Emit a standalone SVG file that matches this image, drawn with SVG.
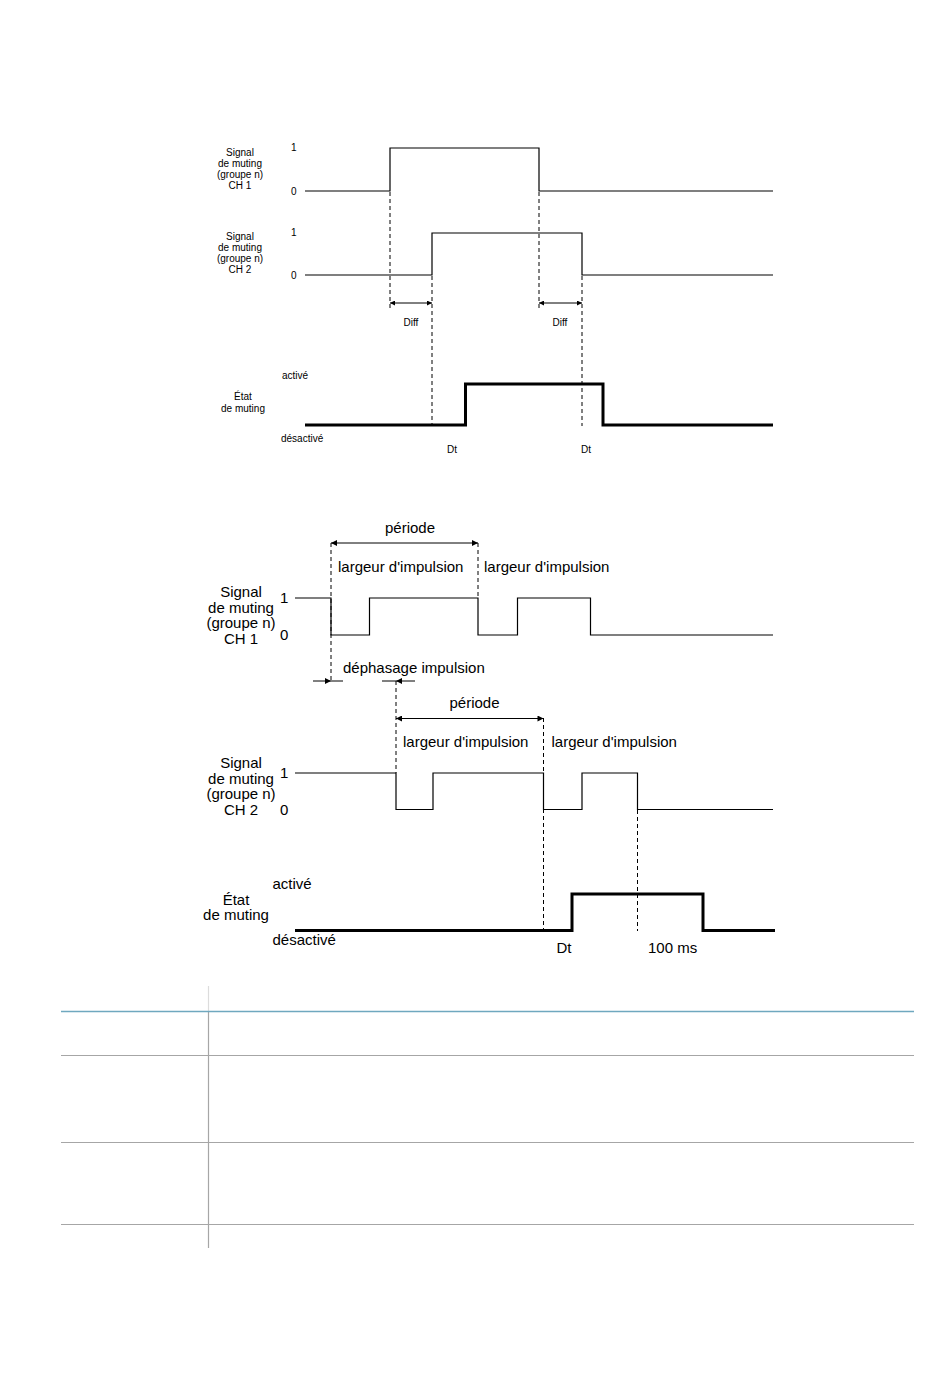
<svg xmlns="http://www.w3.org/2000/svg" width="950" height="1378" viewBox="0 0 950 1378">
<style>
.t{font-family:"Liberation Sans",Arial,sans-serif;fill:#000}
.s{font-size:10px}
.b{font-size:15px}
.m{text-anchor:middle}
.w{fill:none;stroke:#000;stroke-width:1.2}
.th{fill:none;stroke:#000;stroke-width:3}
.d{fill:none;stroke:#000;stroke-width:1;stroke-dasharray:4 3}
.a{fill:none;stroke:#000;stroke-width:1}
.g{stroke:#a6a6a6;stroke-width:1.2;fill:none}
</style>
<defs>
<marker id="as" viewBox="0 0 10 10" refX="10" refY="5" markerWidth="7" markerHeight="5" orient="auto-start-reverse" markerUnits="userSpaceOnUse"><path d="M0,0 L10,5 L0,10 z" fill="#000"/></marker>
<marker id="ab" viewBox="0 0 10 10" refX="10" refY="5" markerWidth="9" markerHeight="6" orient="auto-start-reverse" markerUnits="userSpaceOnUse"><path d="M0,0 L10,5 L0,10 z" fill="#000"/></marker>
</defs>
<rect width="950" height="1378" fill="#fff"/>

<!-- Top diagram -->
<g id="top-ch1">
<text class="t s m" x="240" y="156">Signal</text>
<text class="t s m" x="240" y="167">de muting</text>
<text class="t s m" x="240" y="178">(groupe n)</text>
<text class="t s m" x="240" y="189">CH 1</text>
<text class="t s" x="291" y="151">1</text>
<text class="t s" x="291" y="195">0</text>
<path class="w" d="M305,191 H390 V148 H539 V191 H773"/>
</g>
<g id="top-ch2">
<text class="t s m" x="240" y="240">Signal</text>
<text class="t s m" x="240" y="251">de muting</text>
<text class="t s m" x="240" y="262">(groupe n)</text>
<text class="t s m" x="240" y="273">CH 2</text>
<text class="t s" x="291" y="236">1</text>
<text class="t s" x="291" y="279">0</text>
<path class="w" d="M305,275 H432 V233 H582 V275 H773"/>
</g>
<g id="top-state">
<text class="t s" x="282" y="379">activé</text>
<text class="t s m" x="243" y="400">État</text>
<text class="t s m" x="243" y="412">de muting</text>
<text class="t s" x="281" y="442">désactivé</text>
<path class="th" d="M305,425 H465.5 V384 H603 V425 H773"/>
</g>
<g id="top-connectors">
<path class="d" d="M390,192 V308"/>
<path class="d" d="M432,276 V426"/>
<path class="d" d="M539,192 V308"/>
<path class="d" d="M582,276 V426"/>
<path class="a" d="M390,303 H432" marker-start="url(#as)" marker-end="url(#as)"/>
<path class="a" d="M539,303 H582" marker-start="url(#as)" marker-end="url(#as)"/>
<text class="t s m" x="411" y="326">Diff</text>
<text class="t s m" x="560" y="326">Diff</text>
<text class="t s" x="447" y="453">Dt</text>
<text class="t s" x="581" y="453">Dt</text>
</g>

<!-- Bottom diagram -->
<g id="bot-ch1">
<text class="t b m" x="241" y="597">Signal</text>
<text class="t b m" x="241" y="612.5">de muting</text>
<text class="t b m" x="241" y="628">(groupe n)</text>
<text class="t b m" x="241" y="643.5">CH 1</text>
<text class="t b" x="280" y="603">1</text>
<text class="t b" x="280" y="640">0</text>
<path class="w" d="M295,598 H331 V635 H369.5 V598 H478 V635 H517.5 V598 H590.5 V635 H773"/>
</g>
<g id="bot-ch2">
<text class="t b m" x="241" y="768">Signal</text>
<text class="t b m" x="241" y="783.5">de muting</text>
<text class="t b m" x="241" y="799">(groupe n)</text>
<text class="t b m" x="241" y="814.5">CH 2</text>
<text class="t b" x="280" y="778">1</text>
<text class="t b" x="280" y="815">0</text>
<path class="w" d="M295,773 H396 V809.5 H433 V773 H543.5 V809.5 H582 V773 H637.5 V809.5 H773"/>
</g>
<g id="bot-state">
<text class="t b" x="272.5" y="889">activé</text>
<text class="t b m" x="236" y="905">État</text>
<text class="t b m" x="236" y="920">de muting</text>
<text class="t b" x="272.5" y="945">désactivé</text>
<path class="th" d="M295,930.5 H572 V894 H703 V930.5 H775"/>
</g>
<g id="bot-connectors">
<path class="d" d="M331,543 V682"/>
<path class="d" d="M478,543 V598"/>
<path class="d" d="M396,681 V773"/>
<path class="d" d="M543.5,718 V931"/>
<path class="d" d="M637.5,810 V931"/>
<path class="a" d="M331,543 H478" marker-start="url(#ab)" marker-end="url(#ab)"/>
<path class="a" d="M396,718.5 H543.5" marker-start="url(#ab)" marker-end="url(#ab)"/>
<path class="a" d="M313,681 H331" marker-end="url(#ab)"/>
<path class="a" d="M331,681 H343"/>
<path class="a" d="M415,681 H396" marker-end="url(#ab)"/>
<path class="a" d="M396,681 H382"/>
<text class="t b m" x="410" y="533">période</text>
<text class="t b" x="338" y="572">largeur d'impulsion</text>
<text class="t b" x="484" y="572">largeur d'impulsion</text>
<text class="t b" x="343" y="673">déphasage impulsion</text>
<text class="t b m" x="474.5" y="708">période</text>
<text class="t b" x="403" y="747">largeur d'impulsion</text>
<text class="t b" x="551.5" y="747">largeur d'impulsion</text>
<text class="t b" x="556.5" y="953">Dt</text>
<text class="t b" x="648" y="953">100 ms</text>
</g>

<!-- Table -->
<g id="table">
<path d="M208.5,986 V1011" stroke="#dcdcdc" stroke-width="1.2"/>
<path class="g" d="M208.5,1011 V1248"/>
<path d="M61,1011.5 H914" stroke="#6fa8bf" stroke-width="1.3"/>
<path class="g" d="M61,1055.5 H914"/>
<path class="g" d="M61,1142.5 H914"/>
<path class="g" d="M61,1224.5 H914"/>
</g>
</svg>
